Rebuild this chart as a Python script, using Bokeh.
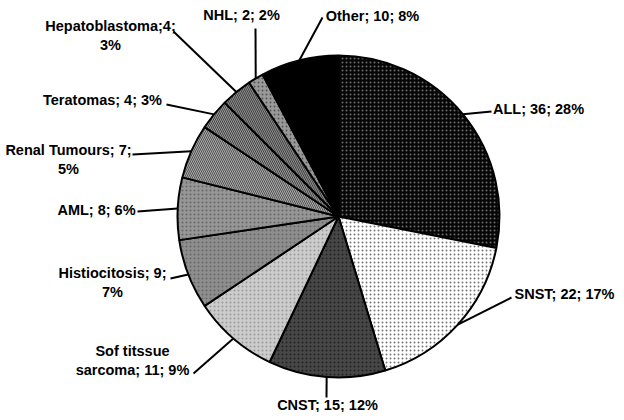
import numpy as np
from bokeh.plotting import figure
from bokeh.models import Range1d, ColumnDataSource
from bokeh.core.properties import value
from bokeh.embed import file_html
from bokeh.resources import INLINE

# ---- data ----
categories = ["ALL", "SNST", "CNST", "Sof titssue sarcoma", "Histiocitosis", "AML",
              "Renal Tumours", "Teratomas", "Hepatoblastoma", "NHL", "Other"]
counts = [36, 22, 15, 11, 9, 8, 7, 4, 4, 2, 10]
labels = ["ALL; 36; 28%", "SNST; 22; 17%", "CNST; 15; 12%", "Sof titssue\nsarcoma; 11; 9%",
          "Histiocitosis; 9;\n7%", "AML; 8; 6%", "Renal Tumours; 7;\n5%", "Teratomas; 4; 3%",
          "Hepatoblastoma;4;\n3%", "NHL; 2; 2%", "Other; 10; 8%"]

# ---- styles ----
fills = ["#050505", "#ffffff", "#474747", "#cccccc", "#8e8e8e", "#969696",
         "#a8a8a8", "#999999", "#8a8a8a", "#9a9a9a", "#000000"]
hatches = ["dot", "dot", "dot", "dot", "dot", "dot",
           "left_diagonal_line", "left_diagonal_line", "left_diagonal_line", "dot", " "]
hatch_colors = ["#6a6a6a", "#777777", "#222222", "#999999", "#666666", "#666666",
                "#555555", "#444444", "#444444", "#555555", "#000000"]

# ---- layout (reference pixel coords; y converted below) ----
W, H = 624, 420
cx, cy, r = 338, 216, 161
label_pos = [(538, 108), (564, 293), (327, 404), (132, 360), (112, 282), (96, 209),
             (68, 159), (102, 99), (110, 35), (241, 14), (372, 15)]
leader_end = [(491, 111), (511, 297), (326, 397), (193, 373), (170, 278), (137, 211),
              (132, 154), (166, 104), (173, 31), (255, 28), (322, 17)]

total = sum(counts)
fr = np.array(counts) / total
cum = np.concatenate([[0], np.cumsum(fr)])
start = np.pi / 2 - 2 * np.pi * cum[:-1]
end = np.pi / 2 - 2 * np.pi * cum[1:]
mid = (cum[:-1] + cum[1:]) / 2 * 2 * np.pi  # clockwise from top

def fy(y):
    return H - y

p = figure(width=616, height=412, x_range=Range1d(0, 616), y_range=Range1d(8, 420),
           output_backend="svg", toolbar_location=None, min_border=0,
           x_axis_location=None, y_axis_location=None)
p.outline_line_color = None
p.grid.visible = False
p.background_fill_color = "white"

src = ColumnDataSource(dict(start=start, end=end, fill=fills, hatch=hatches, hcol=hatch_colors))
p.wedge(x=cx, y=fy(cy), radius=r, start_angle="start", end_angle="end", direction="clock",
        fill_color="fill", hatch_pattern="hatch", hatch_color="hcol", hatch_scale=4,
        hatch_weight=1, line_color="black", line_width=2, source=src)

# leader lines
xs, ys = [], []
for i in range(len(counts)):
    px = cx + r * np.sin(mid[i])
    py = cy - r * np.cos(mid[i])
    xs.append([px, leader_end[i][0]])
    ys.append([fy(py), fy(leader_end[i][1])])
p.multi_line(xs, ys, line_color="black", line_width=2)

p.text(x=[lp[0] for lp in label_pos], y=[fy(lp[1]) for lp in label_pos], text=labels,
       text_font=value("Liberation Sans"), text_font_style="bold", text_font_size="14.5px",
       text_align="center", text_baseline="middle", text_line_height=1.15, text_color="black")

open("out.html", "w").write(file_html(p, INLINE))
